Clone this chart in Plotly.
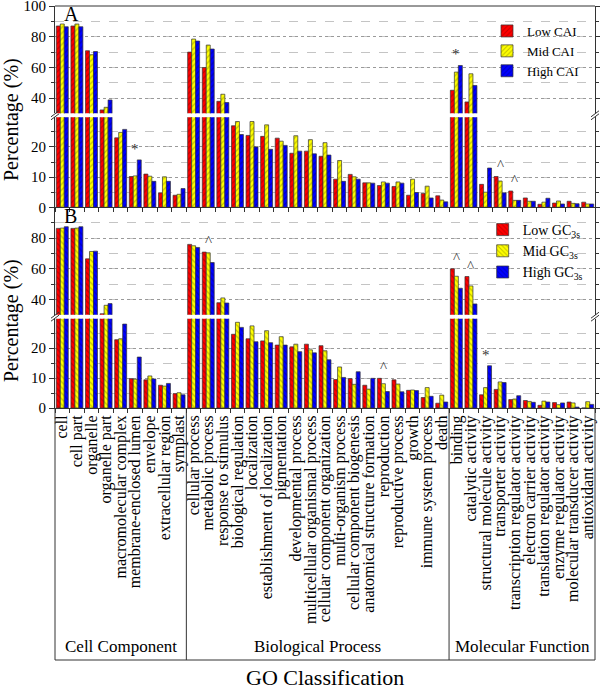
import plotly.graph_objects as go

# ---------------- data ----------------
categories = [
    "cell", "cell part", "organelle", "organelle part", "macromolecular complex",
    "membrane-enclosed lumen", "envelope", "extracellular region", "symplast",
    "cellular process", "metabolic process", "response to stimulus", "biological regulation",
    "localization", "establishment of localization", "pigmentation", "developmental process",
    "multicellular organismal process", "cellular component organization", "multi-organism process",
    "cellular component biogenesis", "anatomical structure formation", "reproduction",
    "reproductive process", "growth", "immune system process", "death",
    "binding", "catalytic activity", "structural molecule activity", "transporter activity",
    "transcription regulator activity", "electron carrier activity", "translation regulator activity",
    "enzyme regulator activity", "molecular transducer activity", "antioxidant activity",
]
group_names = ["Cell Component", "Biological Process", "Molecular Function"]
group_sizes = [9, 18, 10]

cai_low = [87.0, 87.0, 70.9, 32.4, 23.0, 10.2, 11.0, 4.8, 4.0,
           70.0, 60.0, 38.0, 27.0, 23.8, 23.5, 22.9, 17.9, 18.6, 16.9, 9.3, 10.9, 8.1, 7.2, 6.9, 4.0, 4.6, 3.8,
           45.2, 37.6, 7.6, 10.2, 5.4, 3.1, 1.0, 1.4, 2.0, 1.7]
cai_mid = [88.3, 88.3, 68.3, 34.1, 24.8, 10.4, 10.3, 10.1, 4.3,
           78.5, 74.6, 42.6, 28.4, 28.4, 27.3, 21.9, 23.7, 22.4, 21.4, 15.5, 10.1, 8.1, 8.4, 8.4, 9.3, 7.0, 2.4,
           57.0, 55.9, 5.0, 8.7, 2.3, 2.0, 1.7, 2.1, 1.3, 1.1]
cai_high = [86.5, 86.5, 70.4, 38.9, 25.8, 15.7, 8.6, 8.6, 6.2,
            77.2, 72.0, 37.2, 24.1, 20.0, 19.2, 20.5, 18.6, 17.7, 17.3, 8.6, 9.3, 8.0, 8.0, 8.0, 4.9, 3.1, 1.8,
            61.3, 48.3, 13.0, 4.8, 2.3, 2.0, 3.0, 1.1, 1.2, 1.1]

gc_low = [86.3, 86.3, 66.5, 30.8, 22.8, 9.8, 9.4, 7.6, 4.8,
          75.9, 70.9, 38.0, 24.6, 23.1, 22.4, 21.0, 20.4, 21.3, 20.8, 9.5, 9.8, 7.6, 9.9, 9.4, 5.9, 3.5, 1.6,
          60.0, 55.0, 4.4, 6.2, 2.8, 2.5, 0.9, 1.8, 2.0, 0.0]
gc_mid = [86.5, 86.5, 71.3, 36.3, 23.1, 9.6, 10.7, 7.3, 5.1,
          75.0, 70.4, 41.1, 28.6, 27.4, 25.8, 23.8, 21.3, 19.4, 19.1, 13.7, 7.9, 6.3, 8.1, 8.0, 6.0, 6.8, 4.3,
          55.2, 48.9, 6.8, 8.7, 3.0, 2.2, 2.3, 1.1, 1.7, 2.1]
gc_high = [87.4, 87.4, 71.5, 37.4, 28.0, 17.0, 9.7, 8.2, 4.4,
           73.9, 64.1, 37.8, 26.9, 22.1, 21.8, 21.0, 18.8, 18.4, 16.1, 10.2, 12.1, 9.9, 5.5, 5.4, 5.8, 3.9, 2.0,
           47.4, 37.2, 14.1, 8.5, 4.1, 1.9, 2.0, 1.7, 0.3, 1.2]

cai_names = ["Low CAI", "Mid CAI", "High CAI"]
gc_names = ["Low GC<sub>3s</sub>", "Mid GC<sub>3s</sub>", "High GC<sub>3s</sub>"]

marks_a = {"membrane-enclosed lumen": "*", "binding": "*",
           "transporter activity": "^", "transcription regulator activity": "^"}
marks_b = {"metabolic process": "^", "reproduction": "^", "binding": "^",
           "catalytic activity": "^", "structural molecule activity": "*"}

y_ticks_upper_a = [40, 60, 80, 100]
y_ticks_upper_b = [40, 60, 80]
y_ticks_lower = [0, 10, 20]
break_value = 30

# ---------------- style ----------------
FONT = "Liberation Serif, Times New Roman, serif"
colors = ["#FF0000", "#FFFF00", "#0000FF"]
hatch = ["#8B0000", "#808000", "#000080"]
LINE = "#333333"

W, H = 600, 691
ml, mr, mt, mb = 55, 5, 6, 283
ph = H - mt - mb  # plot-area height in px


def py(px):
    """pixel row -> paper y"""
    return (H - mb - px) / ph


dom_a_up = [py(113.3), 1.0]
dom_a_lo = [py(207.3), py(117.3)]
dom_b_up = [py(314.7), py(207.3)]
dom_b_lo = [0.0, py(318.7)]

fig = go.Figure()

panels = [
    dict(series=[cai_low, cai_mid, cai_high], names=cai_names, xa="x2", yu="y", yl="y2",
         shape="/", legend="legend"),
    dict(series=[gc_low, gc_mid, gc_high], names=gc_names, xa="x", yu="y3", yl="y4",
         shape="\\", legend="legend2"),
]

for p in panels:
    for k in range(3):
        for yax in (p["yu"], p["yl"]):
            fig.add_trace(go.Bar(
                x=categories, y=p["series"][k], xaxis=p["xa"], yaxis=yax,
                name=p["names"][k], legend=p["legend"], showlegend=(yax == p["yu"]),
                offsetgroup=str(k),
                marker=dict(color=colors[k], line=dict(color=LINE, width=0.7),
                            pattern=dict(shape=p["shape"], fgcolor=hatch[k], bgcolor=colors[k],
                                         size=4, solidity=0.3)),
                hoverinfo="skip",
            ))

n = len(categories)
xcommon = dict(type="category", categoryorder="array", categoryarray=categories,
               range=[-0.5, n - 0.5], tickmode="linear", tick0=0, dtick=1,
               tickson="boundaries", ticks="outside", ticklen=4,
               tickcolor=LINE, showline=True, linecolor=LINE, linewidth=1, showgrid=False,
               zeroline=False, automargin=False)

ycommon = dict(showline=True, linecolor=LINE, linewidth=1, mirror="ticks", ticks="outside",
               ticklen=5, tickcolor=LINE, showgrid=True, gridcolor="#9a9a9a", griddash="dot",
               gridwidth=1, zeroline=False, tickfont=dict(family=FONT, size=15, color="black"),
               automargin=False, ticklabeloverflow="allow")


def yaxis(domain, rng, tickvals, minor_dtick, anchor):
    d = dict(ycommon)
    d.update(domain=domain, range=rng, tickmode="array", tickvals=tickvals, anchor=anchor,
             minor=dict(dtick=minor_dtick, tick0=0, ticks="outside", ticklen=3, tickcolor=LINE,
                        showgrid=True, gridcolor="#c4c4c4", griddash="dash", gridwidth=1))
    return d


fig.update_layout(
    width=W, height=H, margin=dict(l=ml, r=mr, t=mt, b=mb),
    paper_bgcolor="white", plot_bgcolor="white",
    barmode="group", bargap=0.18, bargroupgap=0.0,
    font=dict(family=FONT, color="black"),
    xaxis=dict(xcommon, anchor="y4", tickangle=-90,
               tickfont=dict(family=FONT, size=16, color="black")),
    xaxis2=dict(xcommon, anchor="y2", matches="x", showticklabels=False),
    yaxis=yaxis(dom_a_up, [break_value + 0.2, 100], y_ticks_upper_a, 10, "x2"),
    yaxis2=yaxis(dom_a_lo, [0, break_value - 0.2], y_ticks_lower, 5, "x2"),
    yaxis3=yaxis(dom_b_up, [break_value + 0.2, 100], y_ticks_upper_b, 10, "x"),
    yaxis4=yaxis(dom_b_lo, [0, break_value - 0.2], y_ticks_lower, 5, "x"),
    legend=dict(x=0.8, y=py(16), xanchor="left", yanchor="top", bgcolor="rgba(0,0,0,0)",
                font=dict(family=FONT, size=13, color="black"), tracegroupgap=0),
    legend2=dict(x=0.792, y=py(214), xanchor="left", yanchor="top", bgcolor="rgba(0,0,0,0)",
                 font=dict(family=FONT, size=14, color="black"), tracegroupgap=0),
)

shapes = []
# top frame line
shapes.append(dict(type="line", xref="paper", yref="paper", x0=0, x1=1, y0=1, y1=1,
                   line=dict(color=LINE, width=1)))
# label box below the axis
box_bottom = py(660)
shapes.append(dict(type="line", xref="paper", yref="paper", x0=0, x1=0, y0=0, y1=box_bottom,
                   line=dict(color=LINE, width=1)))
shapes.append(dict(type="line", xref="paper", yref="paper", x0=1, x1=1, y0=0, y1=box_bottom,
                   line=dict(color=LINE, width=1)))
shapes.append(dict(type="line", xref="paper", yref="paper", x0=0, x1=1, y0=box_bottom, y1=box_bottom,
                   line=dict(color=LINE, width=1)))
cum = 0
group_centers = []
for gi, gs in enumerate(group_sizes):
    group_centers.append((cum + gs / 2) / n)
    cum += gs
    if gi < len(group_sizes) - 1:
        shapes.append(dict(type="line", xref="paper", yref="paper", x0=cum / n, x1=cum / n,
                           y0=0, y1=box_bottom, line=dict(color=LINE, width=1)))

# axis-break marks
for yc in [(dom_a_lo[1] + dom_a_up[0]) / 2, (dom_b_lo[1] + dom_b_up[0]) / 2]:
    for xa in (0, 1):
        for dy in (-1.5, 1.5):
            shapes.append(dict(type="line", xref="paper", yref="paper",
                               xsizemode="pixel", ysizemode="pixel", xanchor=xa, yanchor=yc,
                               x0=-4, x1=4, y0=dy - 3, y1=dy + 3,
                               line=dict(color=LINE, width=1)))
fig.update_layout(shapes=shapes)

ann = []
for gname, gc in zip(group_names, group_centers):
    ann.append(dict(text=gname, xref="paper", yref="paper", x=gc, y=py(646), showarrow=False,
                    font=dict(family=FONT, size=17, color="black"), xanchor="center", yanchor="middle"))
ann.append(dict(text="GO Classification", xref="paper", yref="paper", x=0.5, y=py(677),
                showarrow=False, font=dict(family=FONT, size=22, color="black"),
                xanchor="center", yanchor="middle"))
for yc in (py(120), py(321)):
    ann.append(dict(text="Percentage (%)", xref="paper", yref="paper", x=0, xshift=-44, y=yc,
                    textangle=-90, showarrow=False, font=dict(family=FONT, size=20, color="black"),
                    xanchor="center", yanchor="middle"))
ann.append(dict(text="A", xref="paper", yref="paper", x=0, xshift=7, y=py(14), showarrow=False,
                font=dict(family=FONT, size=20, color="black"), xanchor="left", yanchor="middle"))
ann.append(dict(text="B", xref="paper", yref="paper", x=0, xshift=7, y=py(216), showarrow=False,
                font=dict(family=FONT, size=20, color="black"), xanchor="left", yanchor="middle"))

for marks, series, yu, yl in [(marks_a, [cai_low, cai_mid, cai_high], "y", "y2"),
                               (marks_b, [gc_low, gc_mid, gc_high], "y3", "y4")]:
    for cat, sym in marks.items():
        i = categories.index(cat)
        top = max(s[i] for s in series)
        ann.append(dict(text=sym, x=cat, y=top, xref="x", yref=yu if top >= break_value else yl,
                        showarrow=False, yanchor="bottom", yshift=1,
                        font=dict(family=FONT, size=15, color="#333333")))
fig.update_layout(annotations=ann)

fig.write_html("out.html", config={"displayModeBar": False},
               post_script="document.body.style.margin='0px';")
